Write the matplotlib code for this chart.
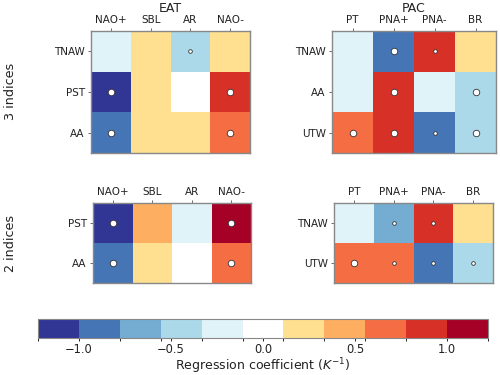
import numpy as np
import matplotlib
matplotlib.use("Agg")
import matplotlib.pyplot as plt
from matplotlib.colors import ListedColormap, BoundaryNorm

# ---- data ----
eat_cols = ["NAO+", "SBL", "AR", "NAO-"]
pac_cols = ["PT", "PNA+", "PNA-", "BR"]

eat3_rows = ["TNAW", "PST", "AA"]
eat3_vals = [[-0.2, 0.2, -0.45, 0.2],
             [-1.1, 0.2, 0.0, 0.9],
             [-0.9, 0.2, 0.2, 0.65]]
eat3_dots = [[0, 0, 1, 0],
             [2, 0, 0, 2],
             [2, 0, 0, 2]]

pac3_rows = ["TNAW", "AA", "UTW"]
pac3_vals = [[-0.2, -0.9, 0.9, 0.2],
             [-0.2, 0.9, -0.2, -0.45],
             [0.65, 0.9, -0.9, -0.45]]
pac3_dots = [[0, 2, 1, 0],
             [0, 2, 0, 2],
             [2, 2, 1, 2]]

eat2_rows = ["PST", "AA"]
eat2_vals = [[-1.1, 0.45, -0.2, 1.1],
             [-0.9, 0.2, 0.0, 0.65]]
eat2_dots = [[2, 0, 0, 2],
             [2, 0, 0, 2]]

pac2_rows = ["TNAW", "UTW"]
pac2_vals = [[-0.2, -0.65, 0.9, 0.2],
             [0.65, 0.65, -0.9, -0.45]]
pac2_dots = [[0, 1, 1, 0],
             [2, 1, 1, 1]]

titles = ["EAT", "PAC"]
row_labels = ["3 indices", "2 indices"]
cbar_ticks = [-1.0, -0.5, 0.0, 0.5, 1.0]

# ---- style ----
colors = ["#313695", "#4575b4", "#74add1", "#abd9e9", "#e0f3f8", "#ffffff",
          "#fee090", "#fdae61", "#f46d43", "#d73027", "#a50026"]
cmap = ListedColormap(colors)
bounds = np.linspace(-11/9, 11/9, 12)
norm = BoundaryNorm(bounds, cmap.N)
dot_sizes = {1: 7, 2: 22}

fig = plt.figure(figsize=(5, 3.75), dpi=100)

def panel(rect, vals, dots, rows, cols, title=None):
    ax = fig.add_axes(rect)
    v = np.array(vals)
    ax.pcolormesh(np.arange(v.shape[1] + 1), np.arange(v.shape[0] + 1), v,
                  cmap=cmap, norm=norm)
    ax.set_xlim(0, v.shape[1])
    ax.set_ylim(v.shape[0], 0)
    d = np.array(dots)
    for lvl, s in dot_sizes.items():
        yy, xx = np.where(d == lvl)
        ax.scatter(xx + 0.5, yy + 0.5, s=s, c="white", edgecolors="#333333",
                   linewidths=0.6, zorder=3)
    ax.xaxis.tick_top()
    ax.set_xticks(np.arange(len(cols)) + 0.5)
    ax.set_xticklabels(cols, fontsize=7.5, color="#222222")
    ax.set_yticks(np.arange(len(rows)) + 0.5)
    ax.set_yticklabels(rows, fontsize=7.5, color="#222222")
    ax.tick_params(length=2.5, width=0.6, color="#555555", pad=2)
    for sp in ax.spines.values():
        sp.set_color("#888888")
        sp.set_linewidth(1.0)
    if title:
        ax.set_title(title, fontsize=9, pad=2, color="#222222")
    return ax

panel([0.182, 0.592, 0.318, 0.325], eat3_vals, eat3_dots, eat3_rows, eat_cols, titles[0])
panel([0.664, 0.592, 0.328, 0.325], pac3_vals, pac3_dots, pac3_rows, pac_cols, titles[1])
panel([0.186, 0.245, 0.316, 0.213], eat2_vals, eat2_dots, eat2_rows, eat_cols)
panel([0.668, 0.245, 0.318, 0.213], pac2_vals, pac2_dots, pac2_rows, pac_cols)

fig.text(0.021, 0.755, row_labels[0], rotation=90, ha="center", va="center",
         fontsize=9.2, color="#222222")
fig.text(0.021, 0.35, row_labels[1], rotation=90, ha="center", va="center",
         fontsize=9.2, color="#222222")

cax = fig.add_axes([0.076, 0.099, 0.9, 0.051])
sm = matplotlib.cm.ScalarMappable(cmap=cmap, norm=norm)
cb = fig.colorbar(sm, cax=cax, orientation="horizontal", ticks=cbar_ticks)
cb.ax.set_xticklabels(["\u22121.0", "\u22120.5", "0.0", "0.5", "1.0"])
cb.ax.tick_params(labelsize=8.3, length=2.5, width=0.6, pad=1.5, labelcolor="#222222")
cb.outline.set_edgecolor("#888888")
cb.set_label("Regression coefficient ($K^{-1}$)", fontsize=9, labelpad=0, color="#222222")

fig.savefig("out.png", dpi=100)
